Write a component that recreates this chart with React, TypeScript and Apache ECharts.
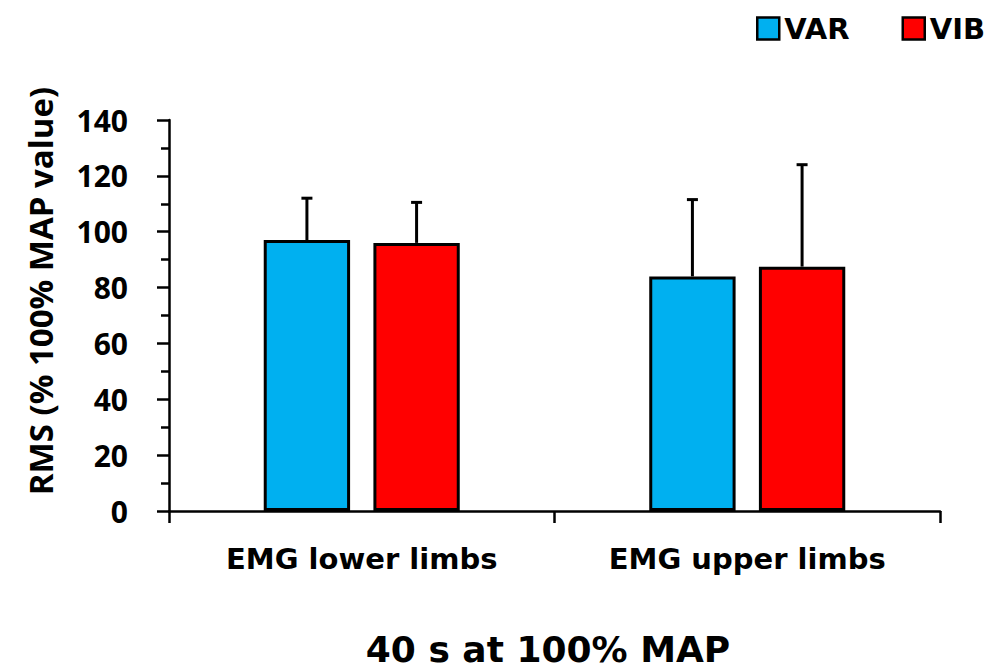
import React, { useEffect, useRef } from "react";
import * as echarts from "echarts";

const categories = ["EMG lower limbs", "EMG upper limbs"];
const seriesNames = ["VAR", "VIB"];
const varValues = [97, 84];
const vibValues = [96, 87.5];
const varErrTop = [112, 111.5];
const vibErrTop = [110.5, 124];
const yTicks = { min: 0, max: 140, interval: 20 };
const colors = ["#00B0F0", "#FF0000"];
const yTitle = "RMS (% 100% MAP value)";
const chartTitle = "40 s at 100% MAP";

const BAR_PCT = 0.224;
const GAP_PCT = 0.27;

function errorSeries(name: string, values: number[], tops: number[], idx: number) {
  return {
    type: "custom",
    name: name + "-err",
    z: 3,
    silent: true,
    data: values.map((v, i) => [i, v, tops[i]]),
    renderItem: (params: any, api: any) => {
      const ci = api.value(0);
      const base = api.coord([ci, api.value(1)]);
      const top = api.coord([ci, api.value(2)]);
      const band = api.size([1, 0])[0];
      const w = band * BAR_PCT;
      const g = w * GAP_PCT;
      const off = (idx === 0 ? -1 : 1) * (w + g) / 2;
      const x = base[0] + off;
      const style = { stroke: "#000", lineWidth: 3 };
      return {
        type: "group",
        children: [
          { type: "line", shape: { x1: x, y1: base[1], x2: x, y2: top[1] }, style },
          { type: "line", shape: { x1: x - 5.5, y1: top[1], x2: x + 5.5, y2: top[1] }, style },
        ],
      };
    },
  };
}

export default function App() {
  const ref = useRef<HTMLDivElement>(null);
  useEffect(() => {
    if (!ref.current) return;
    const chart = echarts.init(ref.current, null, { renderer: "svg" });
    const wide = "DejaVu Sans";
    const option: any = {
      animation: false,
      backgroundColor: "#fff",
      title: {
        text: chartTitle,
        left: 543,
        top: 626,
        textAlign: "center",
        textStyle: { fontFamily: wide, fontWeight: "bold", fontSize: 36, color: "#000" },
      },
      legend: {
        data: seriesNames,
        left: 751,
        top: 9,
        icon: "rect",
        itemWidth: 22,
        itemHeight: 22,
        itemGap: 52,
        itemStyle: { borderColor: "#000", borderWidth: 2.5 },
        textStyle: { fontFamily: wide, fontWeight: "bold", fontSize: 29, color: "#000" },
      },
      graphic: [
        {
          type: "text",
          x: 40,
          y: 291,
          rotation: Math.PI / 2,
          style: {
            text: yTitle,
            fontFamily: "Open Sans",
            fontWeight: "bold",
            fontSize: 33,
            fill: "#000",
            align: "center",
            verticalAlign: "middle",
          },
        },
      ],
      grid: { left: 169, right: 57, top: 120, bottom: 161 },
      xAxis: {
        type: "category",
        data: categories,
        axisLine: { lineStyle: { color: "#000", width: 2.5 } },
        axisTick: { show: true, length: 12, lineStyle: { color: "#000", width: 2.5 } },
        axisLabel: {
          margin: 33,
          fontFamily: wide,
          fontWeight: "bold",
          fontSize: 29,
          color: "#000",
        },
      },
      yAxis: {
        type: "value",
        min: yTicks.min,
        max: yTicks.max,
        interval: yTicks.interval,
        axisLine: { show: true, lineStyle: { color: "#000", width: 2.5 } },
        axisTick: { show: true, length: 12, lineStyle: { color: "#000", width: 2.5 } },
        minorTick: { show: true, splitNumber: 2, length: 8, lineStyle: { color: "#000", width: 2.5 } },
        splitLine: { show: false },
        axisLabel: {
          margin: 41,
          fontFamily: "Open Sans",
          fontWeight: "bold",
          fontSize: 30,
          color: "#000",
        },
      },
      series: [
        {
          type: "bar",
          name: seriesNames[0],
          data: varValues,
          barWidth: (BAR_PCT * 100).toFixed(1) + "%",
          barGap: GAP_PCT * 100 + "%",
          itemStyle: { color: colors[0], borderColor: "#000", borderWidth: 3 },
        },
        {
          type: "bar",
          name: seriesNames[1],
          data: vibValues,
          barWidth: (BAR_PCT * 100).toFixed(1) + "%",
          barGap: GAP_PCT * 100 + "%",
          itemStyle: { color: colors[1], borderColor: "#000", borderWidth: 3 },
        },
        errorSeries(seriesNames[0], varValues, varErrTop, 0),
        errorSeries(seriesNames[1], vibValues, vibErrTop, 1),
      ],
    };
    chart.setOption(option);
    return () => chart.dispose();
  }, []);
  return (
    <div
      ref={ref}
      style={{ position: "absolute", left: 0, top: 0, width: 997, height: 672 }}
    />
  );
}
